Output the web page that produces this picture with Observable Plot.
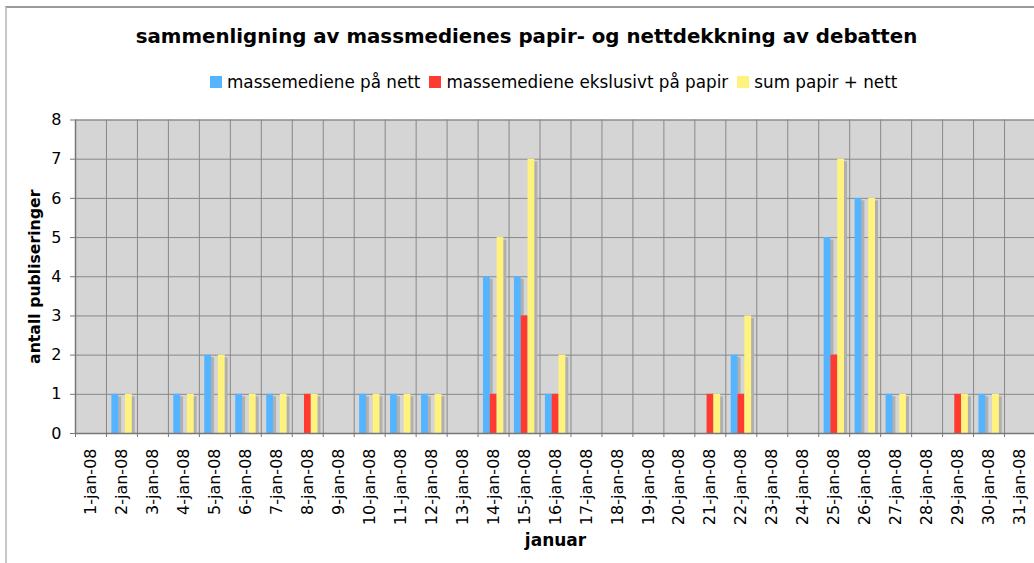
<!DOCTYPE html>
<html><head><meta charset="utf-8">
<script src="https://cdn.jsdelivr.net/npm/d3@7"></script>
<script src="https://cdn.jsdelivr.net/npm/@observablehq/plot@0.6"></script>
<style>
body{margin:0;background:#fff;font-family:"DejaVu Sans",sans-serif;overflow:hidden}
#wrap{position:relative;width:1034px;height:563px;overflow:hidden}
#border{position:absolute;left:5px;top:6px;width:1100px;height:600px;border-left:2px solid #c8c8c8;border-top:2px solid #9a9a9a;pointer-events:none}
#head{position:relative;height:100px}
#title{position:absolute;left:0;width:1053px;top:25px;text-align:center;font-weight:bold;font-size:19.8px;line-height:24px;color:#000;white-space:nowrap}
#legend{position:absolute;left:210px;top:72px;display:flex;align-items:center;font-size:16.8px;line-height:20px;white-space:nowrap;color:#000}
.sw{display:inline-block;width:12px;height:12px;margin-right:5px}
.item{display:flex;align-items:center;margin-right:9px}
svg{display:block}
</style>
</head><body>
<div id="wrap">
<div id="border"></div>
<div id="head"><div id="title"></div><div id="legend"></div></div>
<div id="chart"></div>
</div>
<script>
const titleText = "sammenligning av massmedienes papir- og nettdekkning av debatten";
const yLabel = "antall publiseringer";
const xLabel = "januar";
const seriesNames = ["massemediene på nett", "massemediene ekslusivt på papir", "sum papir + nett"];
const dayLabels = ["1-jan-08","2-jan-08","3-jan-08","4-jan-08","5-jan-08","6-jan-08","7-jan-08","8-jan-08","9-jan-08","10-jan-08","11-jan-08","12-jan-08","13-jan-08","14-jan-08","15-jan-08","16-jan-08","17-jan-08","18-jan-08","19-jan-08","20-jan-08","21-jan-08","22-jan-08","23-jan-08","24-jan-08","25-jan-08","26-jan-08","27-jan-08","28-jan-08","29-jan-08","30-jan-08","31-jan-08"];
const netValues   = [0,1,0,1,2,1,1,0,0,1,1,1,0,4,4,1,0,0,0,0,0,2,0,0,5,6,1,0,0,1,0];
const paperValues = [0,0,0,0,0,0,0,1,0,0,0,0,0,1,3,1,0,0,0,0,1,1,0,0,2,0,0,0,1,0,0];
const sumValues   = [0,1,0,1,2,1,1,1,0,1,1,1,0,5,7,2,0,0,0,0,1,3,0,0,7,6,1,0,1,1,0];
const yTicks = [0,1,2,3,4,5,6,7,8];

const colors = ["#55b4ff", "#ff3a30", "#fff27e"];
const insets = [[5.4, 18.77], [12.2, 11.97], [19.0, 5.17]];
const valueArrays = [netValues, paperValues, sumValues];

document.getElementById("title").textContent = titleText;
const legend = document.getElementById("legend");
seriesNames.forEach((n, i) => {
  const it = document.createElement("div"); it.className = "item";
  const sw = document.createElement("span"); sw.className = "sw"; sw.style.background = colors[i];
  const tx = document.createElement("span"); tx.textContent = n;
  it.appendChild(sw); it.appendChild(tx); legend.appendChild(it);
});

const rows = dayLabels.map((label, i) => ({day: i + 1, label}));
const boundaries = dayLabels.map((_, i) => i + 0.5).concat([dayLabels.length + 0.5]);

const shadowMarks = valueArrays.map((vals, s) => Plot.rectY(
  rows.filter((d, i) => vals[i] > 0),
  {x1: d => d.day - 0.5, x2: d => d.day + 0.5, y1: 0, y2: d => vals[d.day - 1],
   insetLeft: insets[s][0], insetRight: insets[s][1], insetTop: 2.5, dx: 3, fill: "#b0b0b0"}));
const barMarks = valueArrays.map((vals, s) => Plot.rectY(
  rows.filter((d, i) => vals[i] > 0),
  {x1: d => d.day - 0.5, x2: d => d.day + 0.5, y1: 0, y2: d => vals[d.day - 1],
   insetLeft: insets[s][0], insetRight: insets[s][1], fill: colors[s]}));

const chart = Plot.plot({
  width: 1034, height: 463,
  marginTop: 19.5, marginBottom: 130, marginLeft: 75, marginRight: -1,
  style: {fontFamily: "DejaVu Sans, sans-serif", fontSize: "16px", color: "#000", background: "transparent", overflow: "visible"},
  x: {type: "linear", domain: [0.5, 31.5]},
  y: {domain: [0, 8]},
  marks: [
    Plot.frame({fill: "#d5d5d5", stroke: "#999"}),
    Plot.ruleY(yTicks.slice(1), {stroke: "#888", strokeWidth: 1}),
    Plot.ruleX(boundaries.slice(1), {stroke: "#888", strokeWidth: 1}),
    ...shadowMarks,
    ...barMarks,
    Plot.ruleY([0], {stroke: "#777", strokeWidth: 1.5}),
    Plot.ruleX([0.5], {stroke: "#777", strokeWidth: 1.5}),
    Plot.axisY({ticks: yTicks, tickSize: 5, tickPadding: 9, fontSize: 16, label: null, stroke: "#777"}),
    Plot.axisX({ticks: boundaries, tickSize: 4, tickFormat: () => "", label: null, stroke: "#777"}),
    Plot.text(rows, {x: "day", y: 0, text: "label", rotate: -90, textAnchor: "end", lineAnchor: "middle", dy: 15, fontSize: 16, fill: "#000"}),
    Plot.text([yLabel], {frameAnchor: "left", rotate: -90, textAnchor: "middle", lineAnchor: "middle", dx: -41, fontWeight: "bold", fontSize: 15.7, fill: "#000"}),
    Plot.text([xLabel], {frameAnchor: "bottom", dy: 112, fontWeight: "bold", fontSize: 17, fill: "#000"})
  ]
});
document.getElementById("chart").appendChild(chart);
</script>
</body></html>
